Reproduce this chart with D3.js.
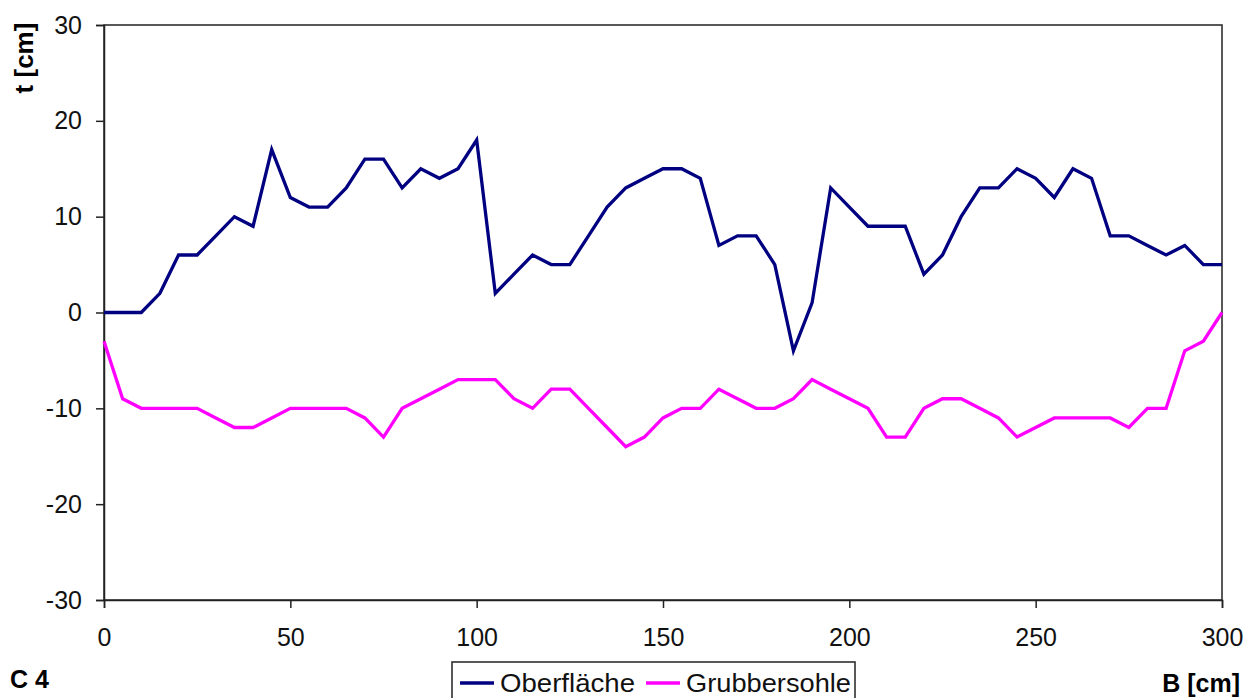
<!DOCTYPE html>
<html>
<head>
<meta charset="utf-8">
<script src="https://cdn.jsdelivr.net/npm/d3@7"></script>
<style>
  body { margin: 0; background: #fff; }
  svg { display: block; font-family: Arial, "Liberation Sans", sans-serif; }
</style>
</head>
<body>
<div id="chart"></div>
<script>
(function(){
    var width = 1246;
    var height = 698;

    var margin = {
        top: 25,
        bottom: 98,
        left: 104,
        right: 24,
    };

    // Breite B [cm], alle 5 cm gemessen
    var positions = [0, 5, 10, 15, 20, 25, 30, 35, 40, 45, 50, 55, 60, 65, 70, 75, 80, 85, 90, 95,
        100, 105, 110, 115, 120, 125, 130, 135, 140, 145, 150, 155, 160, 165, 170, 175, 180, 185, 190, 195,
        200, 205, 210, 215, 220, 225, 230, 235, 240, 245, 250, 255, 260, 265, 270, 275, 280, 285, 290, 295, 300];

    var oberflaeche = [0, 0, 0, 2, 6, 6, 8, 10, 9, 17, 12, 11, 11, 13, 16, 16, 13, 15, 14, 15,
        18, 2, 4, 6, 5, 5, 8, 11, 13, 14, 15, 15, 14, 7, 8, 8, 5, -4, 1, 13,
        11, 9, 9, 9, 4, 6, 10, 13, 13, 15, 14, 12, 15, 14, 8, 8, 7, 6, 7, 5, 5];

    var grubbersohle = [-3, -9, -10, -10, -10, -10, -11, -12, -12, -11, -10, -10, -10, -10, -11, -13, -10, -9, -8, -7,
        -7, -7, -9, -10, -8, -8, -10, -12, -14, -13, -11, -10, -10, -8, -9, -10, -10, -9, -7, -8,
        -9, -10, -13, -13, -10, -9, -9, -10, -11, -13, -12, -11, -11, -11, -11, -12, -10, -10, -4, -3, 0];

    var xTicks = [0, 50, 100, 150, 200, 250, 300];
    var yTicks = [-30, -20, -10, 0, 10, 20, 30];

    var seriesNames = ['Oberfläche', 'Grubbersohle'];
    var seriesColours = ['#000080', '#ff00ff'];

    var svg = d3.select("#chart")
        .append("svg")
            .attr("width", width)
            .attr("height", height);

    var w = width - margin.left - margin.right;
    var h = height - margin.top - margin.bottom;

    var g = svg.append("g")
        .attr("transform", "translate(" + margin.left + "," + margin.top + ")");

    var xScale = d3.scaleLinear()
        .domain([0, 300])
        .range([0, w]);

    var yScale = d3.scaleLinear()
        .domain([-30, 30])
        .range([h, 0]);

    // Rahmen der Zeichenfläche
    g.append('rect')
        .attr('x', 0)
        .attr('y', 0)
        .attr('width', w)
        .attr('height', h)
        .attr('fill', 'none')
        .attr('stroke', '#222')
        .attr('stroke-width', 1.5);

    // einfacher Bindestrich statt Unicode-Minus
    var plain = function(d){ return String(d); };

    var xAxis = g.append('g')
        .attr('transform', 'translate(0,' + h + ')')
        .call(d3.axisBottom(xScale).tickValues(xTicks).tickFormat(plain).tickSize(8).tickPadding(20));

    var yAxis = g.append('g')
        .call(d3.axisLeft(yScale).tickValues(yTicks).tickFormat(plain).tickSize(8).tickPadding(14));

    [xAxis, yAxis].forEach(function(ax){
        ax.select('.domain').attr('stroke', '#222').attr('stroke-width', 1.5);
        ax.selectAll('.tick line').attr('stroke', '#222').attr('stroke-width', 1.5);
        ax.selectAll('.tick text')
            .attr('font-size', '25px')
            .attr('fill', '#111');
    });

    var data = [oberflaeche, grubbersohle];

    var line = d3.line()
        .x(function(d, i){ return xScale(positions[i]); })
        .y(function(d){ return yScale(d); });

    g.selectAll('.series')
        .data(data)
        .enter()
        .append('path')
        .attr('class', 'series')
        .attr('d', line)
        .attr('fill', 'none')
        .attr('stroke', function(d, i){ return seriesColours[i]; })
        .attr('stroke-width', 3.3)
        .attr('stroke-linejoin', 'miter');

    // Achsentitel
    svg.append('text')
        .attr('transform', 'translate(33,58) rotate(-90)')
        .attr('text-anchor', 'middle')
        .attr('font-size', '26px')
        .attr('font-weight', 'bold')
        .text('t [cm]');

    svg.append('text')
        .attr('x', 1240)
        .attr('y', 692)
        .attr('text-anchor', 'end')
        .attr('font-size', '25px')
        .attr('font-weight', 'bold')
        .text('B [cm]');

    svg.append('text')
        .attr('x', 10)
        .attr('y', 688)
        .attr('font-size', '25px')
        .attr('font-weight', 'bold')
        .text('C 4');

    // Legende
    var legend = svg.append('g')
        .attr('transform', 'translate(452,662)');

    legend.append('rect')
        .attr('x', 0)
        .attr('y', 0)
        .attr('width', 403)
        .attr('height', 50)
        .attr('fill', '#fff')
        .attr('stroke', '#222')
        .attr('stroke-width', 1.5);

    var legendX = [8, 194];
    var legendW = [135, 165];
    seriesNames.forEach(function(name, i){
        legend.append('line')
            .attr('x1', legendX[i])
            .attr('x2', legendX[i] + 34)
            .attr('y1', 21)
            .attr('y2', 21)
            .attr('stroke', seriesColours[i])
            .attr('stroke-width', 3.3);
        legend.append('text')
            .attr('x', legendX[i] + 40)
            .attr('y', 30)
            .attr('font-size', '25px')
            .attr('fill', '#111')
            .attr('textLength', legendW[i])
            .attr('lengthAdjust', 'spacingAndGlyphs')
            .text(name);
    });
})();
</script>
</body>
</html>
